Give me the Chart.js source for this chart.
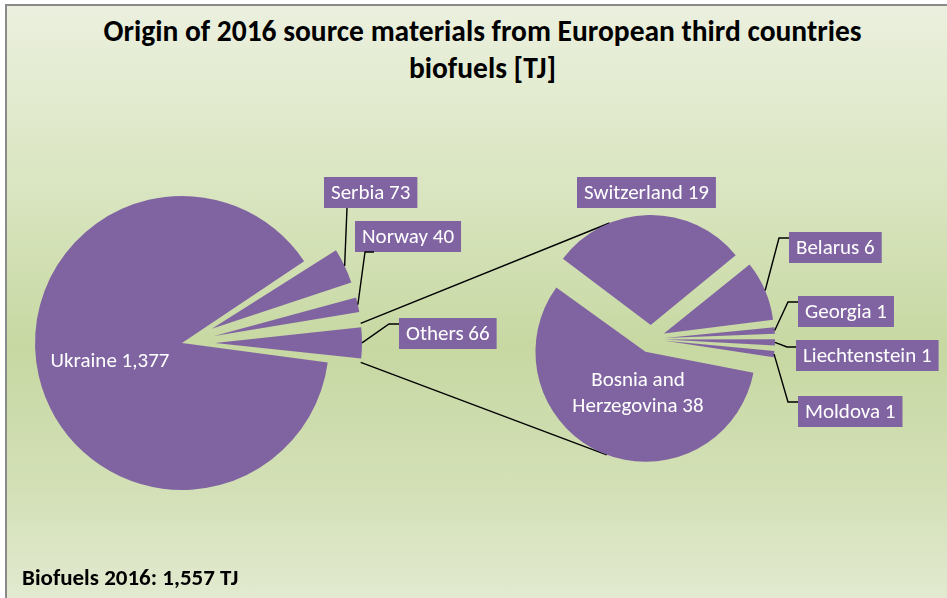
<!DOCTYPE html>
<html>
<head>
<meta charset="utf-8">
<script src="https://cdn.jsdelivr.net/npm/chart.js@4/dist/chart.umd.min.js"></script>
<style>
  body { margin: 0; background: #fff; }
  #wrap { position: relative; width: 947px; height: 598px; overflow: hidden; }
  #box {
    position: absolute; left: 5px; top: 4px; width: 980px; height: 620px;
    border-left: 2px solid #8a8a8a; border-top: 2px solid #8a8a8a;
    background: linear-gradient(to bottom, #ebf0de 0%, #d9e5c0 30%, #c7d8a2 55%, #d3e0b7 78%, #e6ecd6 100%);
  }
  #title {
    position: absolute; left: 6px; top: 13px; width: 953px; text-align: center;
    font: bold 29.5px Carlito, Lato, sans-serif; line-height: 37px; color: #000;
  }
  #note {
    position: absolute; left: 22px; top: 564px;
    font: bold 23px Carlito, Lato, sans-serif; line-height: 26px; color: #000;
  }
  canvas { position: absolute; left: 0; top: 0; }
</style>
</head>
<body>
<div id="wrap">
  <div id="box"></div>
  <div id="title"></div>
  <canvas id="mainPie" width="947" height="598"></canvas>
  <canvas id="otherPie" width="947" height="598"></canvas>
  <div id="note"></div>
</div>
<script>
// data
const mainLabels = ['Ukraine', 'Serbia', 'Norway', 'Others'];
const mainValues = [1377, 73, 40, 66];
const otherLabels = ['Switzerland', 'Belarus', 'Georgia', 'Liechtenstein', 'Moldova', 'Bosnia and Herzegovina'];
const otherValues = [19, 6, 1, 1, 1, 38];
const titleLines = ['Origin of 2016 source materials from European third countries', 'biofuels [TJ]'];
const totalNote = 'Biofuels 2016: 1,557 TJ';

const PURPLE = '#8064a2';
const LABEL_FONT = '21px Carlito, Lato, sans-serif';
const W = 947, H = 598;
const BOX_H = 31, PAD_X = 7;

document.getElementById('title').innerHTML = titleLines.join('<br>');
document.getElementById('note').textContent = totalNote;

// label boxes (top-left corner) and the bends of their leader lines
const mainBoxes = [
  { inside: true, x: 110, y: 362 },
  { x: 324, y: 177, path: [[347, 208]] },
  { x: 355, y: 221, path: [[374, 252], [365, 252]] },
  { x: 399, y: 318, path: [[399, 324], [389, 324]] }
];
const otherBoxes = [
  { x: 577, y: 177 },
  { x: 789, y: 232, path: [[789, 238], [779, 238]] },
  { x: 798, y: 296, path: [[798, 302], [788, 302]] },
  { x: 796, y: 340, path: [[796, 347], [787, 347]] },
  { x: 798, y: 396, path: [[798, 402], [788, 402]] },
  { inside: true, x: 638, y: 394, breakAfter: 2 }
];

// place the pie centre at (cx, cy) inside the full-size canvas
function padFor(cx, cy) {
  return {
    left: Math.max(0, 2 * cx - W), right: Math.max(0, W - 2 * cx),
    top: Math.max(0, 2 * cy - H), bottom: Math.max(0, H - 2 * cy)
  };
}

// chart.js grows the radius of offset slices, take that back out
const trueRadius = {
  id: 'trueRadius',
  beforeDatasetDraw(chart, args) {
    const R = args.meta.controller.outerRadius;
    args.meta.data.forEach(arc => {
      const shift = (arc.options.offset || 0) / 4;
      const fix = 1 - Math.sin(Math.min(Math.PI, arc.circumference));
      arc.outerRadius = R - shift * fix;
    });
  }
};

function sliceGeom(chart, i) {
  const meta = chart.getDatasetMeta(0);
  const arc = meta.data[i];
  const mid = (arc.startAngle + arc.endAngle) / 2;
  const shift = (arc.options.offset || 0) / 4;
  return {
    cx: arc.x + Math.cos(mid) * shift, cy: arc.y + Math.sin(mid) * shift,
    r: meta.controller.outerRadius, start: arc.startAngle, end: arc.endAngle, mid: mid
  };
}

function callouts(id, boxes) {
  return {
    id: id,
    afterDatasetsDraw(chart) {
      const ctx = chart.ctx;
      const labels = chart.data.labels, values = chart.data.datasets[0].data;
      ctx.save();
      ctx.font = LABEL_FONT;
      ctx.textBaseline = 'middle';
      labels.forEach((name, i) => {
        const b = boxes[i];
        if (!b) return;
        const text = name + ' ' + values[i].toLocaleString('en-US');
        if (b.inside) {
          const words = text.split(' ');
          const lines = b.breakAfter ? [words.slice(0, b.breakAfter).join(' '), words.slice(b.breakAfter).join(' ')] : [text];
          ctx.fillStyle = '#fff';
          ctx.textAlign = 'center';
          lines.forEach((ln, k) => ctx.fillText(ln, b.x, b.y + (k - (lines.length - 1) / 2) * 26));
          return;
        }
        const w = ctx.measureText(text).width + 2 * PAD_X;
        ctx.fillStyle = PURPLE;
        ctx.fillRect(b.x, b.y, w, BOX_H);
        ctx.fillStyle = '#fff';
        ctx.textAlign = 'left';
        ctx.fillText(text, b.x + PAD_X, b.y + BOX_H / 2 + 1);
        if (b.path) {
          const g = sliceGeom(chart, i);
          ctx.strokeStyle = '#000';
          ctx.lineWidth = 1.4;
          ctx.beginPath();
          ctx.moveTo(b.path[0][0], b.path[0][1]);
          b.path.slice(1).forEach(p => ctx.lineTo(p[0], p[1]));
          ctx.lineTo(g.cx + g.r * Math.cos(g.mid), g.cy + g.r * Math.sin(g.mid));
          ctx.stroke();
        }
      });
      ctx.restore();
    }
  };
}

function pieOptions(cx, cy) {
  return {
    responsive: false,
    animation: false,
    events: [],
    layout: { padding: padFor(cx, cy) },
    plugins: { legend: { display: false }, tooltip: { enabled: false }, title: { display: false } }
  };
}

const mainChart = new Chart(document.getElementById('mainPie'), {
  type: 'pie',
  data: {
    labels: mainLabels,
    datasets: [{
      data: mainValues,
      backgroundColor: PURPLE,
      borderWidth: 0,
      radius: 147,
      rotation: 97.6,
      offset: [0, 132, 132, 132]
    }]
  },
  options: pieOptions(182, 343),
  plugins: [trueRadius, callouts('mainLabels', mainBoxes)]
});

function tangentPoints(px, py, cx, cy, r) {
  const dx = px - cx, dy = py - cy, d = Math.hypot(dx, dy);
  const a = Math.acos(r / d), t = Math.atan2(dy, dx);
  return [t - a, t + a].map(u => [cx + r * Math.cos(u), cy + r * Math.sin(u)]);
}

// lines joining the "Others" slice to the second pie
const seriesLines = {
  id: 'seriesLines',
  beforeDatasetsDraw(chart) {
    const o = sliceGeom(mainChart, mainLabels.indexOf('Others'));
    const top = sliceGeom(chart, 0);
    const bottom = sliceGeom(chart, otherLabels.length - 1);
    const p1 = [o.cx + o.r * Math.cos(o.start), o.cy + o.r * Math.sin(o.start)];
    const p2 = [o.cx + o.r * Math.cos(o.end), o.cy + o.r * Math.sin(o.end)];
    const t1 = tangentPoints(p1[0], p1[1], top.cx, top.cy, top.r).sort((a, b) => a[1] - b[1])[0];
    const t2 = tangentPoints(p2[0], p2[1], bottom.cx, bottom.cy, bottom.r).sort((a, b) => b[1] - a[1])[0];
    const ctx = chart.ctx;
    ctx.save();
    ctx.strokeStyle = '#000';
    ctx.lineWidth = 1.4;
    ctx.beginPath();
    ctx.moveTo(p1[0], p1[1]); ctx.lineTo(t1[0], t1[1]);
    ctx.moveTo(p2[0], p2[1]); ctx.lineTo(t2[0], t2[1]);
    ctx.stroke();
    ctx.restore();
  }
};

const otherChart = new Chart(document.getElementById('otherPie'), {
  type: 'pie',
  data: {
    labels: otherLabels,
    datasets: [{
      data: otherValues,
      backgroundColor: PURPLE,
      borderWidth: 0,
      radius: 110,
      rotation: -53,
      offset: 56
    }]
  },
  options: pieOptions(651, 339),
  plugins: [seriesLines, trueRadius, callouts('otherLabels', otherBoxes)]
});
</script>
</body>
</html>
